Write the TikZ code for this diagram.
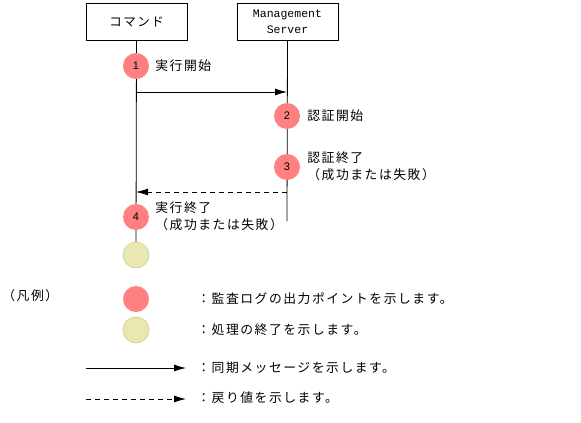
\documentclass[tikz,border=0pt]{standalone}
\usepackage{fontspec}
\newfontfamily\jpfont{Noto Sans CJK JP}[LetterSpace=12]
\newfontfamily\monofont{Liberation Mono}
\newfontfamily\numfont{Liberation Sans}
\definecolor{logred}{HTML}{FF8080}
\definecolor{endyel}{HTML}{E8E8B0}
\definecolor{endyeld}{HTML}{D4D49C}
\usetikzlibrary{arrows.meta}

\begin{document}
\begin{tikzpicture}[x=1pt, y=-1pt, line width=0.8pt,
  actor/.style={draw, minimum width=101pt, minimum height=37pt,
                inner sep=0pt, align=center},
  logpt/.style={circle, fill=logred, minimum size=26pt, inner sep=0pt,
                font=\numfont\fontsize{11}{11}\selectfont},
  endpt/.style={circle, draw=endyeld, fill=endyel, minimum size=26pt,
                inner sep=0pt},
  lbl/.style={anchor=west, inner sep=0pt, align=left,
              font=\jpfont\fontsize{12.8}{17}\selectfont},
  sync/.style={-{Latex[length=12pt, width=7pt]}},
  ret/.style={-{Latex[length=12pt, width=7pt]}, dash pattern=on 5pt off 4pt},
]
\useasboundingbox (0,0) rectangle (581,423);

% lifeline heads
\node[actor, font=\jpfont\fontsize{12.5}{14}\selectfont] (cmd) at (136.5,22) {コマンド};
\node[actor, font=\monofont\fontsize{11.5}{16}\selectfont] (srv) at (287.5,22) {Management\\Server};

\node[endpt] (fin) at (136,255) {};
\coordinate (srvend) at (287,221);
\draw (cmd.south) -- (fin.north);
\draw (srv.south) -- (srvend);

% messages
\coordinate (m1s) at (136,92);
\coordinate (m1e) at (287,92);
\draw[sync] (m1s) -- (m1e);
\coordinate (m2s) at (287,192);
\coordinate (m2e) at (136,192);
\draw[ret] (m2s) -- (m2e);

% audit points
\node[logpt] (p1) at (136,66) {1};
\node[logpt] (p2) at (287,116) {2};
\node[logpt] (p3) at (287,167) {3};
\node[logpt] (p4) at (136,217) {4};
\node[lbl] (t1) at (155,66) {実行開始};
\node[lbl] (t2) at (307,116) {認証開始};
\node[lbl] (t3) at (307,166) {認証終了\\（成功または失敗）};
\node[lbl] (t4) at (155,216) {実行終了\\（成功または失敗）};

% legend
\node[lbl] (leg) at (2,296) {（凡例）};
\node[logpt] (kred) at (136,299) {};
\node[endpt] (kyel) at (136,330) {};
\coordinate (ks1) at (86,368);
\coordinate (ke1) at (186,368);
\draw[sync] (ks1) -- (ke1);
\coordinate (ks2) at (86,399);
\coordinate (ke2) at (186,399);
\draw[ret] (ks2) -- (ke2);
\node[lbl] (d1) at (197,299) {：監査ログの出力ポイントを示します。};
\node[lbl] (d2) at (197,330) {：処理の終了を示します。};
\node[lbl] (d3) at (197,368) {：同期メッセージを示します。};
\node[lbl] (d4) at (197,398) {：戻り値を示します。};
\end{tikzpicture}
\end{document}
